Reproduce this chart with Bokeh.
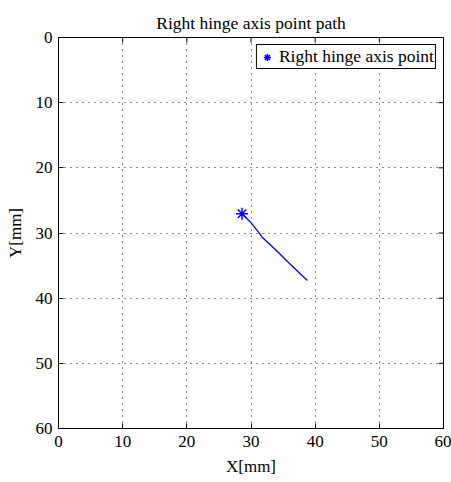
import math
from bokeh.plotting import figure
from bokeh.models import Range1d, FixedTicker, Legend, LegendItem
from bokeh.embed import file_html
from bokeh.resources import INLINE

# data
path_x = [28.6, 29.9, 31.2, 31.7, 33.0, 34.4, 35.8, 37.3, 38.8]
path_y = [27.05, 28.3, 29.9, 30.6, 31.8, 33.1, 34.5, 35.9, 37.3]
start_x = [28.6]
start_y = [27.05]
x_ticks = [0, 10, 20, 30, 40, 50, 60]
y_ticks = [0, 10, 20, 30, 40, 50, 60]

FONT = "Liberation Serif"

p = figure(width=451, height=482, output_backend="svg", toolbar_location=None,
           x_range=Range1d(0, 60), y_range=Range1d(60, 0),
           min_border_left=58, min_border_right=8, min_border_top=37, min_border_bottom=54,
           background_fill_color="white", border_fill_color="white")

p.title.text = "Right hinge axis point path"
p.title.text_font = FONT
p.title.text_font_size = "17.5px"
p.title.text_font_style = "normal"
p.title.align = "center"
p.title.offset = 7
p.title.text_color = "black"
p.title.standoff = 10

p.line(path_x, path_y, line_color="#0000ff", line_width=1.3)
star = p.scatter(start_x, start_y, marker="asterisk", size=12, line_color="#0000ff", line_width=1.5)

for ax, ticks in ((p.xaxis[0], x_ticks), (p.yaxis[0], y_ticks)):
    ax.ticker = FixedTicker(ticks=ticks)
    ax.minor_tick_line_color = None
    ax.major_tick_in = 5
    ax.major_tick_out = 0
    ax.major_tick_line_color = "black"
    ax.axis_line_color = "black"
    ax.major_label_text_font = FONT
    ax.major_label_text_font_size = "17px"
    ax.major_label_text_color = "black"
    ax.axis_label_text_font = FONT
    ax.axis_label_text_font_size = "17px"
    ax.axis_label_text_font_style = "normal"
    ax.axis_label_text_color = "black"

p.xaxis.axis_label = "X[mm]"
p.yaxis.axis_label = "Y[mm]"
p.xaxis.major_label_standoff = 7
p.yaxis.major_label_standoff = 6
p.xaxis.axis_label_standoff = 7
p.yaxis.axis_label_standoff = 8

# inward ticks on the top and right edges (MATLAB box style)
n = len(x_ticks)
p.ray(x=x_ticks, y=[y_ticks[0]] * n, length=5, length_units="screen",
      angle=-math.pi / 2, line_color="black", line_width=1)
m = len(y_ticks)
p.ray(x=[x_ticks[-1]] * m, y=y_ticks, length=5, length_units="screen",
      angle=math.pi, line_color="black", line_width=1)

p.grid.grid_line_color = "black"
p.grid.grid_line_dash = "1 5"
p.grid.grid_line_alpha = 0.9
p.xgrid.ticker = FixedTicker(ticks=x_ticks)
p.ygrid.ticker = FixedTicker(ticks=y_ticks)

p.outline_line_color = "black"
p.outline_line_width = 1

legend = Legend(items=[LegendItem(label="Right hinge axis point", renderers=[star])],
                location="top_right")
legend.label_text_font = FONT
legend.label_text_font_size = "17.5px"
legend.label_text_color = "black"
legend.border_line_color = "black"
legend.border_line_alpha = 1
legend.border_line_width = 1
legend.margin = 7
legend.padding = 1
legend.glyph_width = 18
legend.glyph_height = 20
legend.label_standoff = 3
legend.label_height = 20
legend.background_fill_alpha = 1
p.add_layout(legend)

open("out.html", "w").write(file_html(p, INLINE))
